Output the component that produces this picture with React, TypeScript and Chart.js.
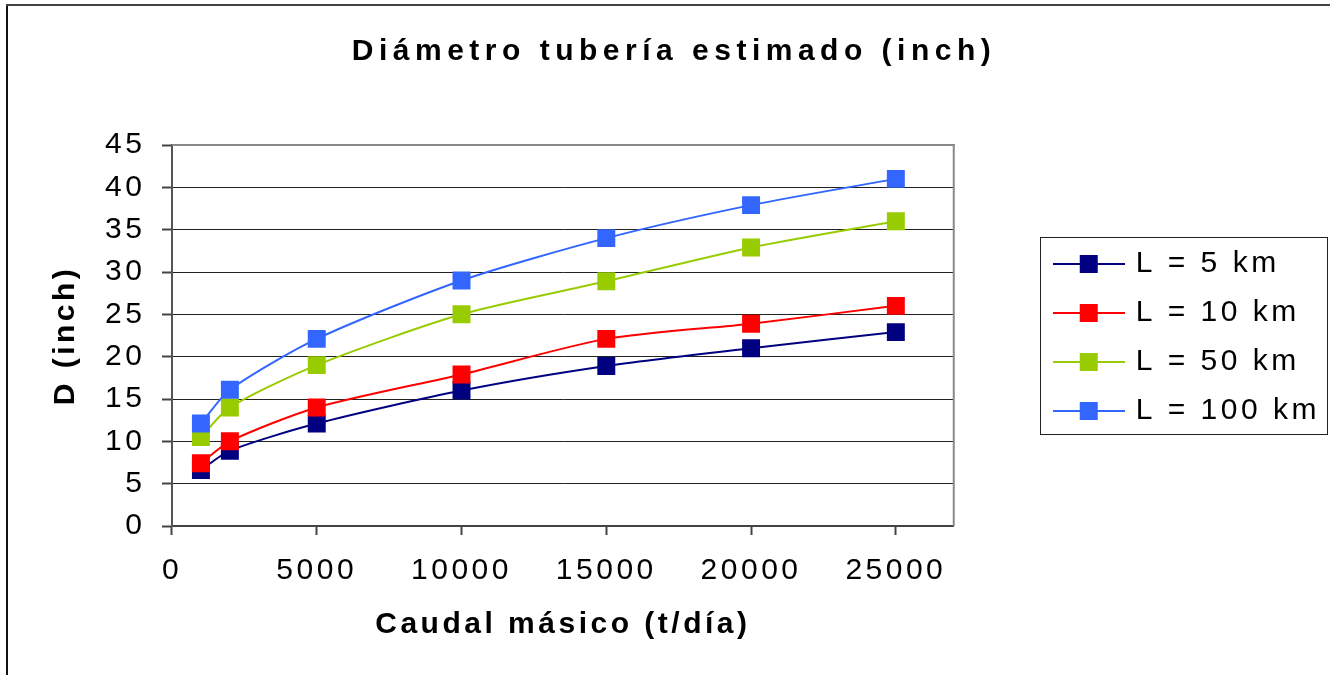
import React, { useEffect, useRef } from 'react';
import { Chart, registerables } from 'chart.js';

Chart.register(...registerables);

const massFlow = [1000, 2000, 5000, 10000, 15000, 20000, 25000];
const xTickValues = [0, 5000, 10000, 15000, 20000, 25000];
const seriesLabels = ['L = 5 km', 'L = 10 km', 'L = 50 km', 'L = 100 km'];
const diamL5 = [6.6, 8.9, 12.1, 16.0, 18.9, 21.0, 22.9];
const diamL10 = [7.4, 10.0, 14.0, 17.9, 22.1, 23.9, 26.0];
const diamL50 = [10.5, 14.0, 19.0, 25.0, 28.9, 32.9, 36.0];
const diamL100 = [12.1, 16.1, 22.1, 29.0, 34.0, 37.9, 41.0];
const seriesColors = ['#000080', '#FF0000', '#99CC00', '#3366FF'];
const titleText = 'Diámetro tubería estimado (inch)';
const xTitleText = 'Caudal másico (t/día)';
const yTitleText = 'D (inch)';

const FONT = '"Liberation Sans", Arial, sans-serif';
const LEGEND_SHIFT = 84;

function legendSymbol(color: string) {
  const c = document.createElement('canvas');
  c.width = 72;
  c.height = 18;
  const g = c.getContext('2d')!;
  g.strokeStyle = color;
  g.lineWidth = 2;
  g.beginPath();
  g.moveTo(0, 9);
  g.lineTo(72, 9);
  g.stroke();
  g.fillStyle = color;
  g.fillRect(27, 0, 18, 18);
  return c;
}

const decorPlugin = {
  id: 'decor',
  beforeLayout(chart: any) {
    chart.ctx.letterSpacing = '3.5px';
  },
  afterLayout(chart: any) {
    const lg = chart.legend;
    if (lg) {
      lg.left += LEGEND_SHIFT;
      lg.right += LEGEND_SHIFT;
    }
  },
  beforeDraw(chart: any) {
    const ctx = chart.ctx;
    ctx.letterSpacing = '3.5px';
    const tb = chart.titleBlock;
    if (tb && !tb.__patched) {
      const orig = tb.draw.bind(tb);
      tb.draw = (...args: any[]) => {
        ctx.save();
        ctx.letterSpacing = '5.5px';
        ctx.translate(674 - (tb.left + tb.right) / 2, 0);
        orig(...args);
        ctx.restore();
      };
      tb.__patched = true;
    }
    ctx.save();
    ctx.fillStyle = '#111';
    ctx.fillRect(6, 5, 2, chart.height - 5);
    ctx.fillStyle = '#444';
    ctx.fillRect(6, 4, chart.width - 6, 2);
    ctx.restore();
  },
  afterDraw(chart: any) {
    const ctx = chart.ctx;
    const a = chart.chartArea;
    ctx.save();
    ctx.fillStyle = '#888';
    ctx.fillRect(a.left, a.top - 1, a.right - a.left + 1, 2);
    ctx.fillRect(a.right - 1, a.top - 1, 2, a.bottom - a.top + 1);
    const lg = chart.legend;
    if (lg && lg.legendHitBoxes && lg.legendHitBoxes.length) {
      const hb = lg.legendHitBoxes;
      const first = hb[0];
      const last = hb[hb.length - 1];
      const x0 = first.left - 17;
      const y0 = first.top - 12;
      const x1 = Math.min(lg.right - 3, chart.width - 3);
      const y1 = last.top + last.height + 8;
      ctx.strokeStyle = '#222';
      ctx.lineWidth = 1;
      ctx.strokeRect(Math.round(x0) + 0.5, Math.round(y0) + 0.5, Math.round(x1 - x0), Math.round(y1 - y0));
    }
    ctx.restore();
  },
};

export default function App() {
  const ref = useRef<HTMLCanvasElement>(null);
  useEffect(() => {
    const canvas = ref.current!;
    const allSeries = [diamL5, diamL10, diamL50, diamL100];
    const symbols = seriesColors.map(legendSymbol);
    const datasets = allSeries.map((vals, i) => ({
      label: seriesLabels[i],
      data: massFlow.map((x, j) => ({ x, y: vals[j] })),
      borderColor: seriesColors[i],
      backgroundColor: seriesColors[i],
      borderWidth: 2,
      pointStyle: 'rect',
      pointRadius: 12.7,
      pointBorderWidth: 0,
      pointBackgroundColor: seriesColors[i],
      tension: 0.25,
      order: 4 - i,
    }));
    const chart = new Chart(canvas, {
      type: 'line',
      data: { datasets },
      plugins: [decorPlugin],
      options: {
        animation: false,
        responsive: false,
        devicePixelRatio: 1,
        layout: { padding: { left: 47.5, right: 84, top: 0, bottom: 0 } },
        plugins: {
          tooltip: { enabled: false },
          title: {
            display: true,
            text: titleText,
            color: '#000',
            font: { family: FONT, size: 30, weight: 'bold' },
            padding: { top: 33.6, bottom: 75.4 },
          },
          legend: {
            display: true,
            position: 'right',
            labels: {
              color: '#000',
              font: { family: FONT, size: 30 },
              usePointStyle: true,
              pointStyleWidth: 64,
              boxHeight: 18,
              padding: 19,
              sort: (a: any, b: any) => a.datasetIndex - b.datasetIndex,
              generateLabels: (ch: any) => {
                const items = (Chart.defaults as any).plugins.legend.labels.generateLabels(ch);
                return items.map((it: any) => ({ ...it, pointStyle: symbols[it.datasetIndex] }));
              },
            },
          },
        },
        scales: {
          x: {
            type: 'linear',
            min: 0,
            max: 27000,
            ticks: {
              color: '#000',
              font: { family: FONT, size: 30 },
              padding: 17.6,
              maxRotation: 0,
              autoSkip: false,
              callback: (v: any) => String(v),
            },
            afterBuildTicks: (axis: any) => {
              axis.ticks = xTickValues.map((v) => ({ value: v }));
            },
            grid: { drawOnChartArea: false, drawTicks: true, tickLength: 9, tickColor: '#444', tickWidth: 2 },
            border: { color: '#444', width: 2 },
            title: {
              display: true,
              text: xTitleText,
              color: '#000',
              font: { family: FONT, size: 30, weight: 'bold' },
              padding: { top: 0.4, bottom: 32.4 },
            },
          },
          y: {
            type: 'linear',
            min: 0,
            max: 45,
            ticks: {
              stepSize: 5,
              color: '#000',
              font: { family: FONT, size: 30 },
              padding: 16.5,
              callback: (v: any) => String(v),
            },
            grid: { color: '#222', lineWidth: 1, tickLength: 10, tickColor: '#444', tickWidth: 2 },
            border: { color: '#555', width: 2 },
            title: {
              display: true,
              text: yTitleText,
              color: '#000',
              font: { family: FONT, size: 30, weight: 'bold' },
              padding: { top: 0, bottom: 5.1 },
            },
          },
        },
      } as any,
    });
    return () => chart.destroy();
  }, []);
  return (
    <div style={{ position: 'absolute', left: 0, top: 0, width: 1330, height: 675, background: '#fff' }}>
      <canvas ref={ref} width={1330} height={675} style={{ display: 'block' }} />
    </div>
  );
}
